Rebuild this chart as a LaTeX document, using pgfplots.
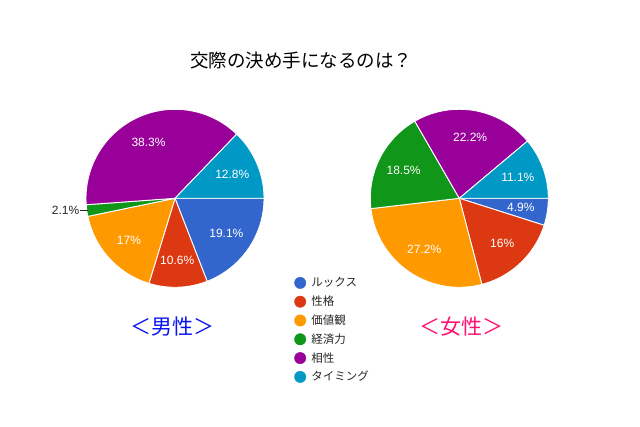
\documentclass[border=0pt]{standalone}
\usepackage{pgfplots}
\pgfplotsset{compat=1.18}
\usepackage{fontspec}
\setmainfont{Liberation Sans}
\newfontfamily\jp{Noto Sans CJK JP}
\newfontfamily\arial{Liberation Sans}
\definecolor{cA}{HTML}{3366CC}
\definecolor{cB}{HTML}{DC3912}
\definecolor{cC}{HTML}{FF9900}
\definecolor{cD}{HTML}{109618}
\definecolor{cE}{HTML}{990099}
\definecolor{cF}{HTML}{0099C6}
\definecolor{male}{HTML}{0A14F0}
\definecolor{female}{HTML}{FF1070}
\tikzset{pct/.style={font=\arial\fontsize{12}{12}\selectfont, text=white, inner sep=0pt}}
% \pieslices{cx}{cy}{radius}{sum}{value/colour/showlabel,...}
\newcommand{\pieslices}[5]{%
  \gdef\cum{0}%
  \foreach \v/\c/\s in {#5} {%
    \pgfmathsetmacro\a{-\cum/#4*360}%
    \pgfmathsetmacro\b{-(\cum+\v)/#4*360}%
    \pgfmathsetmacro\m{(\a+\b)/2}%
    \pgfmathsetmacro\lx{#1+0.7*#3*cos(\m)}%
    \pgfmathsetmacro\ly{#2+0.7*#3*sin(\m)}%
    \edef\temp{\noexpand\addplot[forget plot, fill=\c, draw=white, line width=0.9pt, domain=\b:\a, samples=90]
      ({#1+#3*cos(x)},{#2+#3*sin(x)}) -- (axis cs:#1,#2) -- cycle;}%
    \temp
    \ifnum\s=1
      \edef\temp{\noexpand\node[pct] at (axis cs:\lx,\ly) {\v\noexpand\%};}%
      \temp
    \fi
    \pgfmathsetmacro\newcum{\cum+\v}%
    \xdef\cum{\newcum}%
  }%
}
\begin{document}
\begin{tikzpicture}
\begin{axis}[
  width=640pt, height=427pt, scale only axis,
  xmin=0, xmax=640, ymin=0, ymax=427,
  hide axis, clip=false,
  legend style={at={(axis cs:294.3,150)}, anchor=north west, draw=none, fill=none,
    inner sep=0pt, outer sep=0pt, row sep=7pt, column sep=5.3pt,
    font=\jp\fontsize{11.5}{11.5}\selectfont, text=black!85,
    nodes={inner sep=0pt, anchor=west}},
  legend cell align=left,
]
\path (rel axis cs:0,0) rectangle (rel axis cs:1,1);
\addlegendimage{legend image code/.code={\fill[cA] (0pt,0pt) circle (5.7pt);}}
\addlegendimage{legend image code/.code={\fill[cB] (0pt,0pt) circle (5.7pt);}}
\addlegendimage{legend image code/.code={\fill[cC] (0pt,0pt) circle (5.7pt);}}
\addlegendimage{legend image code/.code={\fill[cD] (0pt,0pt) circle (5.7pt);}}
\addlegendimage{legend image code/.code={\fill[cE] (0pt,0pt) circle (5.7pt);}}
\addlegendimage{legend image code/.code={\fill[cF] (0pt,0pt) circle (5.7pt);}}
\legend{ルックス,性格,価値観,経済力,相性,タイミング}

% Men
\pieslices{175}{228.7}{89}{99.9}{19.1/cA/1,10.6/cB/1,17/cC/1,2.1/cD/0,38.3/cE/1,12.8/cF/1}
% Women
\pieslices{459.3}{228.7}{89}{99.9}{4.9/cA/1,16/cB/1,27.2/cC/1,18.5/cD/1,22.2/cE/1,11.1/cF/1}

\draw[black!85, line width=0.8pt] (axis cs:80,217) -- (axis cs:88,217);
\node[font=\arial\fontsize{12}{12}\selectfont, text=black!85, anchor=east, inner sep=0pt] at (axis cs:79.5,217) {2.1\%};

\node[font=\jp\fontsize{18.5}{18.5}\selectfont, text=black] at (axis cs:301,366) {交際の決め手になるのは？};
\node[font=\jp\fontsize{21}{21}\selectfont, text=male] at (axis cs:172,100.5) {＜男性＞};
\node[font=\jp\fontsize{21}{21}\selectfont, text=female] at (axis cs:461.5,100.5) {＜女性＞};
\end{axis}
\end{tikzpicture}
\end{document}
